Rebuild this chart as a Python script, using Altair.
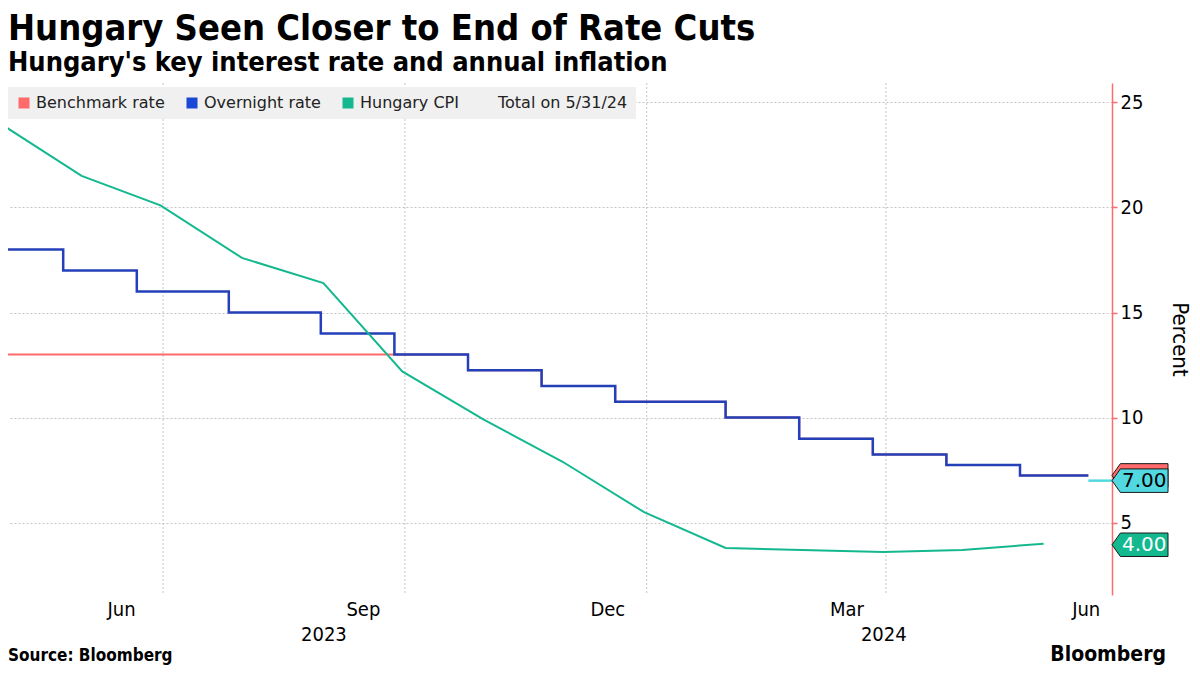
import altair as alt
import pandas as pd

# ---------------- data ----------------
cpi_dates = ["2023-04-30", "2023-05-31", "2023-06-30", "2023-07-31", "2023-08-31",
             "2023-09-30", "2023-10-31", "2023-11-30", "2023-12-31", "2024-01-31",
             "2024-02-29", "2024-03-31", "2024-04-30", "2024-05-31"]
cpi_values = [24.0, 21.5, 20.1, 17.6, 16.4, 12.2, 9.9, 7.9, 5.5, 3.8, 3.7, 3.6, 3.7, 4.0]

rate_dates = ["2023-04-30", "2023-05-24", "2023-06-21", "2023-07-26", "2023-08-30",
              "2023-09-27", "2023-10-25", "2023-11-22", "2023-12-20", "2024-01-31",
              "2024-02-28", "2024-03-27", "2024-04-24", "2024-05-22", "2024-06-17"]
overnight_values = [18, 17, 16, 15, 14, 13, 12.25, 11.5, 10.75, 10, 9, 8.25, 7.75, 7.25, 7.25]
benchmark_values = [13, 13, 13, 13, 13, 13, 12.25, 11.5, 10.75, 10, 9, 8.25, 7.75, 7.25, 7.25]

latest_dates = ["2024-06-17", "2024-06-26"]
latest_values = [7.0, 7.0]

grid_dates = ["2023-07-01", "2023-10-01", "2024-01-01", "2024-04-01"]
y_ticks = [5, 10, 15, 20, 25]

legend_names = ["Benchmark rate", "Overnight rate", "Hungary CPI", "Total on 5/31/24"]
legend_colors = ["#ff6b6b", "#1a47d6", "#14b88f", "transparent"]

callout_values = [7.25, 7.0, 3.95]
callout_texts = ["", "7.00", "4.00"]
callout_fills = ["#ff6b6b", "#52d8e0", "#14b88f"]
callout_text_colors = ["#000000", "#000000", "#ffffff"]

# ---------------- layout ----------------
W, H = 1104, 512
FONT = "DejaVu Sans Condensed, DejaVu Sans, sans-serif"
WFONT = "DejaVu Sans, sans-serif"
RED, BLUE, GREEN, CYAN = "#ff6b6b", "#2340b8", "#14b88f", "#52d8e0"

x_scale = alt.Scale(domain=[alt.DateTime(year=2023, month=5, date=3),
                            alt.DateTime(year=2024, month=6, date=26)], nice=False)
y_scale = alt.Scale(domain=[1.56, 25.92], nice=False, zero=False)

cpi_df = pd.DataFrame({"date": cpi_dates, "value": cpi_values})
ovn_df = pd.DataFrame({"date": rate_dates, "value": overnight_values})
bm_df = pd.DataFrame({"date": rate_dates, "value": benchmark_values})
lat_df = pd.DataFrame({"date": latest_dates, "value": latest_values})
grid_df = pd.DataFrame({"date": grid_dates})
leg_df = pd.DataFrame({"name": legend_names, "date": ["2023-06-01"] * 4, "value": [-50] * 4})
call_df = pd.DataFrame({"value": callout_values, "text": callout_texts,
                        "fill": callout_fills, "tc": callout_text_colors})

month_axis = alt.Axis(
    orient="bottom",
    values=[alt.DateTime(year=2023, month=6, date=15), alt.DateTime(year=2023, month=9, date=15),
            alt.DateTime(year=2023, month=12, date=17), alt.DateTime(year=2024, month=3, date=17),
            alt.DateTime(year=2024, month=6, date=16)],
    format="%b", title=None, grid=False, domain=False, ticks=False,
    labelFont=FONT, labelFontSize=20, labelColor="#000", labelPadding=4, labelFlush=False,
)
year_axis = alt.Axis(
    orient="bottom",
    values=[alt.DateTime(year=2023, month=8, date=31), alt.DateTime(year=2024, month=3, date=31)],
    format="%Y", title=None, grid=False, domain=False, ticks=False,
    labelFont=FONT, labelFontSize=20, labelColor="#000", labelPadding=29, labelFlush=False,
)
y_axis = alt.Axis(
    orient="right", title="Percent", values=y_ticks,
    grid=True, gridColor="#c4c4c4", gridDash=[2, 2],
    domainColor=RED, domainWidth=1.5, tickColor=RED, tickSize=5, tickWidth=1.5,
    labelFont=FONT, labelFontSize=20, labelColor="#000", labelPadding=3,
    titleFont=FONT, titleFontSize=22, titleFontWeight="normal", titleColor="#000",
    titlePadding=25,
)

rules = alt.Chart(grid_df).mark_rule(color="#c4c4c4", strokeDash=[2, 2], strokeWidth=1).encode(
    x=alt.X("date:T", scale=x_scale, axis=year_axis)
)

bm = alt.Chart(bm_df).mark_line(color=RED, strokeWidth=2, interpolate="step-after", clip=True).encode(
    x=alt.X("date:T", scale=x_scale, axis=month_axis),
    y=alt.Y("value:Q", scale=y_scale, axis=y_axis),
)
ovn = alt.Chart(ovn_df).mark_line(color=BLUE, strokeWidth=2.5, interpolate="step-after", clip=True).encode(
    x=alt.X("date:T", scale=x_scale, axis=None),
    y=alt.Y("value:Q", scale=y_scale),
)
cpi = alt.Chart(cpi_df).mark_line(color=GREEN, strokeWidth=2, clip=True).encode(
    x=alt.X("date:T", scale=x_scale, axis=None),
    y=alt.Y("value:Q", scale=y_scale),
)
lat = alt.Chart(lat_df).mark_line(color=CYAN, strokeWidth=2.5, clip=True).encode(
    x=alt.X("date:T", scale=x_scale, axis=None),
    y=alt.Y("value:Q", scale=y_scale),
)

legend_layer = alt.Chart(leg_df).mark_square(size=121, opacity=1, clip=True).encode(
    x=alt.X("date:T", scale=x_scale, axis=None),
    y=alt.Y("value:Q", scale=y_scale),
    fill=alt.Fill("name:N", scale=alt.Scale(domain=legend_names, range=legend_colors),
                  legend=alt.Legend(orient="none", legendX=0, legendY=4, direction="horizontal",
                                    title=None, fillColor="#f0f0f0", padding=8,
                                    symbolType="square", symbolSize=121, symbolStrokeWidth=0,
                                    labelFont=WFONT, labelFontSize=16, labelColor="#222",
                                    columnPadding=19, labelOffset=4)),
)

PATH = "M-1,0L-0.7,-0.42L1,-0.42L1,0.42L-0.7,0.42Z"
call_shapes = alt.Chart(call_df).mark_point(shape=PATH, size=3136, filled=True, fillOpacity=1,
                                            opacity=1, stroke="#1a1a1a", strokeWidth=1).encode(
    x=alt.value(W + 28),
    y=alt.Y("value:Q", scale=y_scale),
    fill=alt.Fill("fill:N", scale=None, legend=None),
)
call_text = alt.Chart(call_df).mark_text(align="left", baseline="middle", font=WFONT, fontSize=20).encode(
    x=alt.value(W + 10),
    y=alt.Y("value:Q", scale=y_scale),
    text="text:N",
    color=alt.Color("tc:N", scale=None, legend=None),
)

foot_df = pd.DataFrame({"t": ["Source: Bloomberg"]})
source = alt.Chart(foot_df).mark_text(align="left", baseline="middle", font=FONT, fontSize=17,
                                      fontWeight="bold", color="#000").encode(
    x=alt.value(0), y=alt.value(H + 61), text="t:N")
brand_df = pd.DataFrame({"t": ["Bloomberg"]})
brand = alt.Chart(brand_df).mark_text(align="right", baseline="middle", font=FONT, fontSize=21,
                                      fontWeight="bold", color="#000").encode(
    x=alt.value(W + 54), y=alt.value(H + 60), text="t:N")

chart = alt.layer(
    rules, bm, ovn, cpi, lat, legend_layer, call_shapes, call_text, source, brand
).resolve_axis(x="independent").properties(
    width=W, height=H,
    padding={"left": 0, "top": 75, "right": 80, "bottom": 72},
    autosize=alt.AutoSizeParams(type="none"),
    title=alt.TitleParams(
        text="Hungary Seen Closer to End of Rate Cuts",
        subtitle="Hungary's key interest rate and annual inflation",
        anchor="start", frame="group", offset=6,
        font=FONT, fontSize=36, fontWeight="bold", color="#000",
        subtitleFont=FONT, subtitleFontSize=27, subtitleFontWeight="bold", subtitleColor="#000",
        subtitlePadding=2,
    ),
).configure_view(stroke=None)

chart.save("out.html", embed_options={"renderer": "svg", "actions": False})
